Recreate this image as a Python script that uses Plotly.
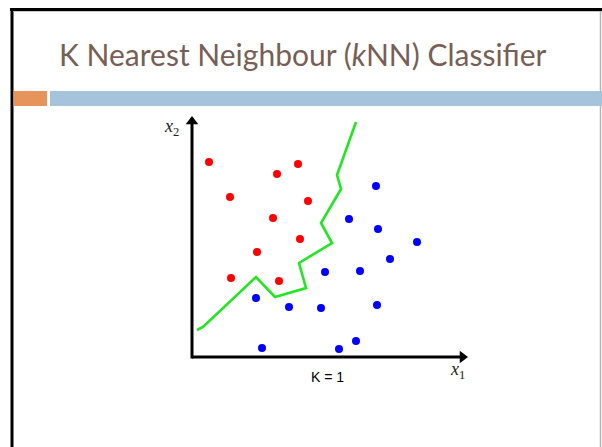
import plotly.graph_objects as go

W, H = 602, 447
OFF = 0  # body margin removed via post_script

# ---- data (chart units: x1, x2) ----
red_x1 = [1.7, 8.5, 10.6, 3.8, 11.6, 8.1, 10.8, 6.5, 3.9, 8.7]
red_x2 = [19.5, 18.3, 19.3, 16.0, 15.6, 13.9, 11.8, 10.5, 7.9, 7.6]

blue_x1 = [18.4, 15.7, 18.6, 22.5, 19.8, 13.3, 16.8, 6.4, 9.7, 12.9, 18.5, 7.0, 14.7, 16.4]
blue_x2 = [17.1, 13.8, 12.8, 11.5, 9.8, 8.5, 8.6, 5.9, 5.0, 4.9, 5.2, 0.9, 0.8, 1.6]

boundary_x1 = [16.4, 14.5, 14.9, 12.9, 14.0, 10.7, 11.4, 8.3, 6.4, 1.1, 0.5]
boundary_x2 = [23.5, 18.2, 16.8, 13.4, 11.4, 9.4, 6.9, 6.0, 8.0, 3.0, 2.7]

axis_x1_end = 27.5
axis_x2_end = 24.0

title_text = "K Nearest Neighbour (<i>k</i>NN) Classifier"
k_label = "K = 1"
x1_label = "<i>x</i><sub>1</sub>"
x2_label = "<i>x</i><sub>2</sub>"


def px(x):
    return (x - OFF) / W


def py(y):
    return 1 - (y - OFF) / H


fig = go.Figure()

# axes lines
fig.add_trace(go.Scatter(x=[0, axis_x1_end - 0.7], y=[0, 0], mode="lines",
                         line=dict(color="black", width=3), hoverinfo="skip"))
fig.add_trace(go.Scatter(x=[0, 0], y=[-0.15, axis_x2_end - 0.7], mode="lines",
                         line=dict(color="black", width=3), hoverinfo="skip"))
# arrow heads
fig.add_trace(go.Scatter(x=[axis_x1_end - 0.45], y=[0], mode="markers",
                         marker=dict(symbol="triangle-right", size=11, color="black",
                                     line=dict(width=0)), hoverinfo="skip"))
fig.add_trace(go.Scatter(x=[0], y=[axis_x2_end - 0.45], mode="markers",
                         marker=dict(symbol="triangle-up", size=11, color="black",
                                     line=dict(width=0)), hoverinfo="skip"))

fig.add_trace(go.Scatter(x=boundary_x1, y=boundary_x2, mode="lines",
                         line=dict(color="#22e622", width=2.6),
                         hoverinfo="skip"))
fig.add_trace(go.Scatter(x=red_x1, y=red_x2, mode="markers",
                         marker=dict(color="#ff0000", size=8, line=dict(width=0))))
fig.add_trace(go.Scatter(x=blue_x1, y=blue_x2, mode="markers",
                         marker=dict(color="#0000ff", size=8, line=dict(width=0))))

shapes = []
# slide frame
shapes.append(dict(type="line", xref="paper", yref="paper",
                   x0=px(10), x1=px(602), y0=py(9.5), y1=py(9.5),
                   line=dict(color="black", width=3)))
shapes.append(dict(type="line", xref="paper", yref="paper",
                   x0=px(12), x1=px(12), y0=py(8), y1=py(447),
                   line=dict(color="black", width=3)))
shapes.append(dict(type="line", xref="paper", yref="paper",
                   x0=px(13.5), x1=px(602), y0=py(11.5), y1=py(11.5),
                   line=dict(color="#c8c8c8", width=1)))
shapes.append(dict(type="line", xref="paper", yref="paper",
                   x0=px(600.5), x1=px(600.5), y0=py(11), y1=py(447),
                   line=dict(color="#b4b4b4", width=1.5)))
# header bars
shapes.append(dict(type="rect", xref="paper", yref="paper",
                   x0=px(13.5), x1=px(47), y0=py(106), y1=py(91),
                   fillcolor="#e69459", line=dict(width=0)))
shapes.append(dict(type="rect", xref="paper", yref="paper",
                   x0=px(50), x1=px(602), y0=py(106), y1=py(91),
                   fillcolor="#a5c4dc", line=dict(width=0)))

annotations = []
annotations.append(dict(x=-2.1, y=23.0, xref="x", yref="y", text=x2_label,
                        showarrow=False, font=dict(family="Liberation Serif", size=18, color="#222")))
annotations.append(dict(x=26.5, y=-1.3, xref="x", yref="y", text=x1_label,
                        showarrow=False, font=dict(family="Liberation Serif", size=18, color="#222")))
annotations.append(dict(x=13.5, y=-2.0, xref="x", yref="y", text=k_label,
                        showarrow=False, font=dict(family="Liberation Sans", size=14, color="black")))
# title
annotations.append(dict(x=px(57), y=py(54), xref="paper", yref="paper", text=title_text,
                        xanchor="left", yanchor="middle", showarrow=False,
                        font=dict(family="Lato", size=30, color="#775f55")))

# data-axis ranges chosen so that 1 unit = 10 px with the origin at screen (192, 357)
fig.update_layout(
    width=W, height=H,
    margin=dict(l=0, r=0, t=0, b=0),
    paper_bgcolor="white", plot_bgcolor="white",
    showlegend=False,
    xaxis=dict(range=[(OFF - 192) / 10, (OFF + W - 192) / 10], visible=False, fixedrange=True),
    yaxis=dict(range=[(357 - OFF - H) / 10, (357 - OFF) / 10], visible=False, fixedrange=True),
    shapes=shapes, annotations=annotations,
)

fig.write_html("out.html",
               config={"displayModeBar": False},
               post_script="document.body.style.margin='0px';document.body.style.overflow='hidden';")
